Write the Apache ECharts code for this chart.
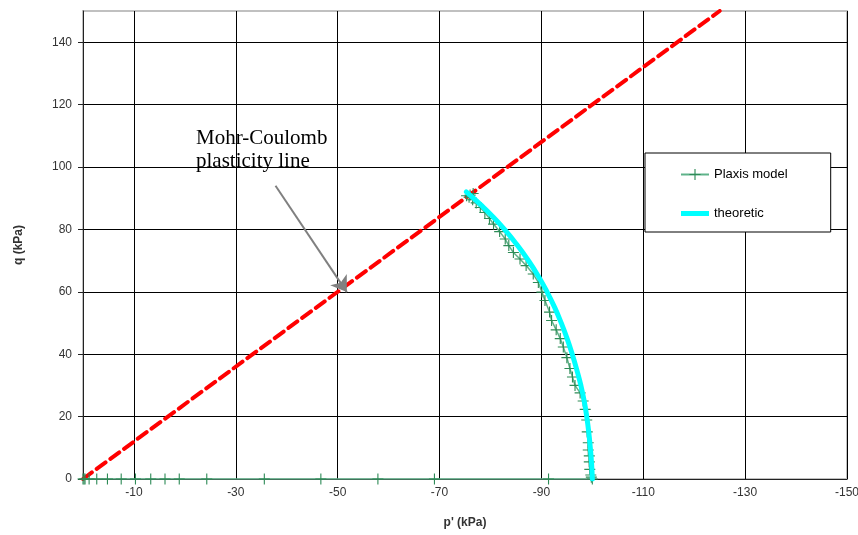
<!DOCTYPE html>
<html>
<head>
<meta charset="utf-8">
<script src="https://cdn.jsdelivr.net/npm/echarts@6/dist/echarts.min.js"></script>
<style>html,body{margin:0;padding:0;background:#fff}#c{width:858px;height:535px}</style>
</head>
<body>
<div id="c"></div>
<script>
// ---- data ----
const xTicks = [-150, -130, -110, -90, -70, -50, -30, -10];
const plaxisP = [0, -0.2, -0.4, -1.2, -2.7, -4.8, -7.5, -10.3, -13.3, -16.1, -18.9, -24.3, -35.6, -46.7, -57.9, -69.0, -91.4, -100,
  -99.8, -99.7, -99.5, -99.4, -99.4, -99.2, -99.2, -99.0, -98.9, -98.6, -98.2, -97.6, -96.6, -96.1, -95.6, -95.0, -94.3, -93.7,
  -92.9, -92.0, -91.6, -90.7, -90.1, -89.4, -88.4, -87.0, -85.8, -84.5, -83.6, -82.9, -81.8, -80.6, -79.8, -78.9, -78.0, -77.2,
  -76.5, -75.8, -75.3, -76.0, -76.6];
const plaxisQ = [0, 0, 0, 0, 0, 0, 0, 0, 0, 0, 0, 0, 0, 0, 0, 0, 0, 0,
  0.6, 1.3, 3.1, 5.5, 7.4, 9.3, 11.6, 15.1, 18.9, 22.3, 25.0, 27.6, 30.0, 32.7, 35.4, 38.9, 42.3, 45.0,
  47.8, 50.8, 53.5, 57.2, 59.9, 63.0, 65.7, 68.4, 70.5, 72.6, 74.8, 76.9, 79.3, 81.7, 83.5, 85.4, 87.0, 88.5,
  89.5, 90.3, 90.8, 91.0, 91.5];
const theoP = [-100, -99.85, -99.6, -99.3, -98.9, -98.4, -97.75, -96.95, -96.05, -95.05, -93.9, -92.6, -91.1, -89.4, -87.45, -85.25, -82.75, -79.9, -78.0, -76.65, -75.25];
const theoQ = [0, 5, 10, 15, 20, 25, 30, 35, 40, 45, 50, 55, 60, 65, 70, 75, 80, 85, 88, 90, 92];
const mcP = [0, -125];
const mcQ = [0, 150];
const arrowP = [-37.8, -51.8];
const arrowQ = [94, 59.9];

const zip = (a, b) => a.map((v, i) => [v, b[i]]);
const plusPath = 'path://M4.5,0 H5.5 V4.5 H10 V5.5 H5.5 V10 H4.5 V5.5 H0 V4.5 H4.5 Z';
const font = 'Liberation Sans';

const chart = echarts.init(document.getElementById('c'), null, {renderer: 'canvas'});
chart.setOption({
  animation: false,
  backgroundColor: '#fff',
  textStyle: {fontFamily: font},
  grid: {left: 83, right: 11, top: 11, bottom: 56, outerBoundsMode: 'none', containLabel: false,
    show: true, borderColor: '#c0c0c0', borderWidth: 2, backgroundColor: 'transparent'},
  xAxis: {
    type: 'value', inverse: true, min: -150, max: 0,
    name: "p' (kPa)", nameLocation: 'middle', nameGap: 38,
    nameTextStyle: {fontFamily: font, fontSize: 12, fontWeight: 'bold', color: '#333'},
    axisLine: {onZero: false, lineStyle: {color: '#222', width: 1}},
    axisTick: {show: false, customValues: xTicks},
    axisLabel: {customValues: xTicks, fontFamily: font, fontSize: 12, color: '#333', margin: 8},
    splitLine: {show: true, lineStyle: {color: '#000', width: 1}}
  },
  yAxis: {
    type: 'value', min: 0, max: 150, interval: 20,
    name: 'q (kPa)', nameLocation: 'middle', nameGap: 58,
    nameTextStyle: {fontFamily: font, fontSize: 12, fontWeight: 'bold', color: '#333'},
    axisLine: {show: true, onZero: false, lineStyle: {color: '#222', width: 1}},
    axisTick: {show: true, length: 5, lineStyle: {color: '#222'}},
    axisLabel: {showMaxLabel: false, fontFamily: font, fontSize: 12, color: '#333', margin: 11},
    splitLine: {show: true, showMinLine: false, showMaxLine: false, lineStyle: {color: '#000', width: 1}}
  },
  legend: {
    orient: 'vertical', left: 645, top: 153,
    padding: [15, 43, 12, 35], itemGap: 26, itemWidth: 28, itemHeight: 14,
    backgroundColor: '#fff', borderColor: '#000', borderWidth: 1, borderRadius: 0,
    textStyle: {fontFamily: font, fontSize: 13, color: '#000'},
    data: [{name: 'Plaxis model'}, {name: 'theoretic', icon: 'path://M0,0 H28 V5 H0 Z', itemStyle: {color: '#00ffff'}}]
  },
  graphic: [{
    type: 'text', left: 196, top: 127, z: 100,
    style: {text: 'Mohr-Coulomb\nplasticity line', font: '21px "Liberation Serif"', lineHeight: 23, fill: '#000'}
  }],
  series: [
    {
      name: 'MC', type: 'line', data: zip(mcP, mcQ), symbol: 'none', z: 1,
      lineStyle: {color: '#ff0000', width: 4, type: [11, 6], cap: 'round'},
      markLine: {
        silent: true, symbol: ['none', 'arrow'], symbolSize: 15, z: 20,
        lineStyle: {color: '#808080', width: 2, type: 'solid'}, label: {show: false},
        itemStyle: {color: '#808080'},
        data: [[{coord: [arrowP[0], arrowQ[0]]}, {coord: [arrowP[1], arrowQ[1]]}]]
      }
    },
    {
      name: 'Plaxis model', type: 'line', data: zip(plaxisP, plaxisQ), z: 3,
      symbol: plusPath, symbolSize: 11, showAllSymbol: true,
      itemStyle: {color: '#2e8b57'},
      lineStyle: {color: '#5fb38a', width: 1.5}
    },
    {
      name: 'theoretic', type: 'line', data: zip(theoP, theoQ), smooth: 0.5, symbol: 'none', z: 4,
      lineStyle: {color: '#00ffff', width: 5, cap: 'round', join: 'round'}, itemStyle: {color: '#00ffff'}
    }
  ]
});
</script>
</body>
</html>
